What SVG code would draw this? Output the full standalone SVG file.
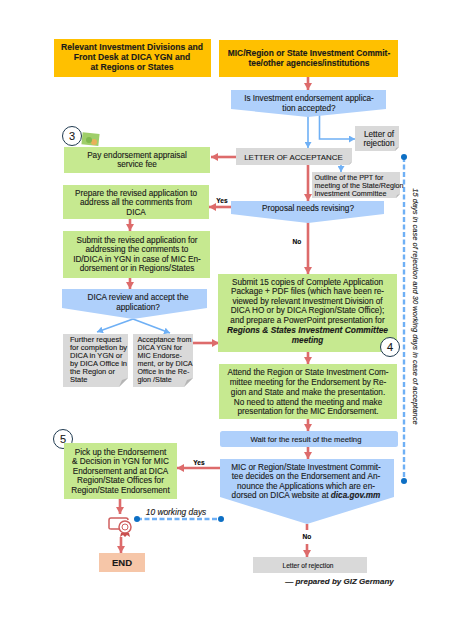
<svg xmlns="http://www.w3.org/2000/svg" width="451" height="637" viewBox="0 0 451 637">
<style>
text{font-family:"Liberation Sans",Arial,sans-serif;fill:#1a1a1a;text-anchor:middle;stroke:#1a1a1a;stroke-width:.12}
.t{font-size:8.2px}
.b{font-size:8.4px;font-weight:bold}
.s{font-size:7.5px}
.s2{font-size:7.2px}
.l{text-anchor:start}
.y{font-size:6.6px;font-weight:bold;fill:#000}
.i{font-style:italic;font-weight:bold}
.org{fill:#ffc000}.grn{fill:#c6e990}.blu{fill:#afd0fb}.gry{fill:#d9d9d9}
.red{stroke:#dd6b6b;stroke-width:2.6;fill:none}
.lb{stroke:#6fb0f5;stroke-width:1.6;fill:none}
.dash{stroke:#6fb0f5;stroke-width:2.4;fill:none;stroke-dasharray:5 2.5}
.dot{fill:#0d6fc4}
.circ{fill:#fff;stroke:#1f3a50;stroke-width:1}
.fold{fill:#b5b5b5}
</style>
<defs>
<marker id="r" markerUnits="userSpaceOnUse" markerWidth="8" markerHeight="8" refX="7" refY="4" orient="auto"><path d="M0 0L7 4L0 8z" fill="#dd6b6b"/></marker>
<marker id="b" markerUnits="userSpaceOnUse" markerWidth="7" markerHeight="7" refX="6" refY="3.5" orient="auto"><path d="M0 0L6 3.5L0 7z" fill="#6fb0f5"/></marker>
</defs>
<rect width="451" height="637" fill="#fff"/>

<g id="connectors">
<path class="red" marker-end="url(#r)" d="M308 77V90"/>
<path class="lb" marker-end="url(#b)" d="M308 116V148"/>
<path class="lb" marker-end="url(#b)" d="M319.500 114V139H355"/>
<path class="red" marker-end="url(#r)" d="M236 157H211"/>
<path class="lb" marker-end="url(#b)" d="M341 165V172"/>
<path class="red" marker-end="url(#r)" d="M308 165V201"/>
<path class="red" marker-end="url(#r)" d="M231 207H209"/>
<path class="red" marker-end="url(#r)" d="M130 219V231"/>
<path class="red" marker-end="url(#r)" d="M130 278V289"/>
<path class="lb" marker-end="url(#b)" d="M133 319L97 332"/>
<path class="lb" marker-end="url(#b)" d="M133 319L170 333"/>
<path class="red" marker-end="url(#r)" d="M193 343H219"/>
<path class="red" marker-end="url(#r)" d="M308 222V274"/>
<path class="red" marker-end="url(#r)" d="M308 352V364"/>
<path class="red" marker-end="url(#r)" d="M308 419V431"/>
<path class="red" marker-end="url(#r)" d="M308 447V459"/>
<path class="red" marker-end="url(#r)" d="M220 468H177"/>
<path class="red" marker-end="url(#r)" d="M120 499V514"/>
<path class="red" marker-end="url(#r)" d="M121 537V553"/>
<path class="red" d="M307 524V530"/>
<path class="red" marker-end="url(#r)" d="M307 544V557"/>
<path class="dash" d="M404 157V481"/>
<circle class="dot" cx="404" cy="157" r="3"/>
<circle class="dot" cx="404" cy="481" r="3"/>
<path class="dash" d="M137 519H221"/>
<circle class="dot" cx="137" cy="519" r="3"/>
<circle class="dot" cx="221" cy="519" r="3"/>
<text class="y" x="222" y="203">Yes</text>
<text class="y" x="297" y="243.500">No</text>
<text class="y" x="199" y="465">Yes</text>
<text class="y" x="307" y="539">No</text>
<text font-style="italic" font-size="8.400" x="176" y="515" stroke-width=".25">10 working days</text>
<text font-style="italic" font-size="7.500" stroke-width=".25" transform="translate(412.500 306.500) rotate(90)">15 days in case of rejection and 30 working days in case of acceptance</text>
</g>

<g id="n-divisions"><rect class="org" x="54" y="39" width="157" height="38"/>
<text class="b" style="font-size:8.6px"><tspan x="132" y="50">Relevant Investment Divisions and</tspan><tspan x="132" y="60">Front Desk at DICA YGN and</tspan><tspan x="132" y="69.500">at Regions or States</tspan></text></g>

<g id="n-mic"><rect class="org" x="219" y="40" width="179" height="37"/>
<text class="b"><tspan x="309" y="56">MIC/Region or State Investment Commit-</tspan><tspan x="309" y="66">tee/other agencies/institutions</tspan></text></g>

<g id="n-accepted"><path class="blu" d="M231 90H386V109L308 117L231 109z"/>
<text class="t"><tspan x="309" y="101">Is Investment endorsement applica-</tspan><tspan x="309" y="111">tion accepted?</tspan></text></g>

<g id="n-rejection1"><path class="gry" d="M355 126H399V147L395 151H355z"/><path class="fold" d="M395 151L396 148L399 147z"/>
<text class="t"><tspan x="379" y="137">Letter of</tspan><tspan x="379" y="146">rejection</tspan></text></g>

<g id="n-acceptance"><path class="gry" d="M236 148H352V162L349 165H236z"/><path class="fold" d="M349 165L350 163L352 162z"/>
<text font-size="7.900" x="293.500" y="160">LETTER OF ACCEPTANCE</text></g>

<g id="n-outline"><path class="gry" d="M312 172H400V194L396 198H312z"/><path class="fold" d="M396 198L397 195L400 194z"/>
<text class="s l" style="font-size:7.200px"><tspan x="314.500" y="180">Outline of the PPT for</tspan><tspan x="314.500" y="188">meeting of the State/Region</tspan><tspan x="314.500" y="195.500">Investment Committee</tspan></text></g>

<g id="n-step3"><circle class="circ" cx="72" cy="136" r="9.500"/><text font-size="11" x="72" y="140">3</text>
<rect x="82" y="133" width="17" height="12" fill="#9fce6a" transform="rotate(6 90 139)"/><circle cx="94" cy="142" r="3" fill="#e8b15a"/><circle cx="89" cy="140" r="3" fill="#7fb94f"/></g>

<g id="n-pay"><rect class="grn" x="64" y="147" width="146" height="26"/>
<text class="t"><tspan x="137" y="158">Pay endorsement appraisal</tspan><tspan x="137" y="167">service fee</tspan></text></g>

<g id="n-revising"><path class="blu" d="M231 201H384V214L308 223L231 214z"/>
<text class="t" x="308" y="211">Proposal needs revising?</text></g>

<g id="n-prepare"><rect class="grn" x="63" y="185" width="146" height="34"/>
<text class="t"><tspan x="136" y="196">Prepare the revised application to</tspan><tspan x="136" y="205">address all the comments from</tspan><tspan x="136" y="215">DICA</tspan></text></g>

<g id="n-submit"><rect class="grn" x="63" y="231" width="147" height="47"/>
<text class="t"><tspan x="137" y="243">Submit the revised application for</tspan><tspan x="137" y="252">addressing the comments to</tspan><tspan x="137" y="261.500">ID/DICA in YGN in case of MIC En-</tspan><tspan x="137" y="270.500">dorsement or in Regions/States</tspan></text></g>

<g id="n-review"><path class="blu" d="M62 289H207V308L133 319L62 308z"/>
<text class="t"><tspan x="138" y="300">DICA review and accept the</tspan><tspan x="138" y="310">application?</tspan></text></g>

<g id="n-further"><path class="gry" d="M63 334H128V378L119 387H63z"/><path class="fold" d="M119 387L122 380L128 378z"/>
<text class="s l"><tspan x="70" y="342">Further request</tspan><tspan x="70" y="350">for completion by</tspan><tspan x="70" y="358">DICA in YGN or</tspan><tspan x="70" y="366">by DICA Office in</tspan><tspan x="70" y="374">the Region or</tspan><tspan x="70" y="382">State</tspan></text></g>

<g id="n-acceptfrom"><path class="gry" d="M133 334H193V378L184 387H133z"/><path class="fold" d="M184 387L187 380L193 378z"/>
<text class="s2 l"><tspan x="137.500" y="342">Acceptance from</tspan><tspan x="137.500" y="350">DICA YGN for</tspan><tspan x="137.500" y="358">MIC Endorse-</tspan><tspan x="137.500" y="366">ment, or by DICA</tspan><tspan x="137.500" y="374">Office in the Re-</tspan><tspan x="137.500" y="382">gion /State</tspan></text></g>

<g id="n-copies"><rect class="grn" x="218" y="274" width="179" height="78"/>
<text class="t"><tspan x="307.500" y="285">Submit 15 copies of Complete Application</tspan><tspan x="307.500" y="294">Package + PDF files (which have been re-</tspan><tspan x="307.500" y="304">viewed by relevant Investment Division of</tspan><tspan x="307.500" y="313">DICA HO or by DICA Region/State Office);</tspan><tspan x="307.500" y="323">and prepare a PowerPoint presentation for</tspan><tspan x="307.500" y="333" class="i" font-size="8.400">Regions &amp; States Investment Committee</tspan><tspan x="307.500" y="343" class="i">meeting</tspan></text></g>

<g id="n-step4"><circle class="circ" cx="390" cy="347" r="9.500"/><text font-size="11" x="390" y="351">4</text></g>

<g id="n-attend"><rect class="grn" x="219" y="364" width="178" height="55"/>
<text class="t"><tspan x="308" y="375">Attend the Region or State Investment Com-</tspan><tspan x="308" y="385">mittee meeting for the Endorsement by Re-</tspan><tspan x="308" y="394.500">gion and State and make the presentation.</tspan><tspan x="308" y="404.500">No need to attend the meeting and make</tspan><tspan x="308" y="414">presentation for the MIC Endorsement.</tspan></text></g>

<g id="n-wait"><rect class="blu" x="220" y="431" width="178" height="16" rx="2.500"/>
<text font-size="7.700" x="306" y="441.500">Wait for the result of the meeting</text></g>

<g id="n-decides"><path class="blu" d="M220 459H394V497L307 524L220 497z"/>
<text class="t"><tspan x="306" y="469.500">MIC or Region/State Investment Commit-</tspan><tspan x="306" y="478.500">tee decides on the Endorsement and An-</tspan><tspan x="306" y="488.500">nounce the Applications which are en-</tspan><tspan x="306" y="497.500">dorsed on DICA website at <tspan class="i">dica.gov.mm</tspan></tspan></text></g>

<g id="n-step5"><circle class="circ" cx="63" cy="439" r="9.500"/><text font-size="11" x="63" y="443">5</text></g>

<g id="n-pickup"><rect class="grn" x="64" y="443" width="113" height="56"/>
<text class="t"><tspan x="120.500" y="455">Pick up the Endorsement</tspan><tspan x="120.500" y="464">&amp; Decision in YGN for MIC</tspan><tspan x="120.500" y="474">Endorsement and at DICA</tspan><tspan x="120.500" y="483">Region/State Offices for</tspan><tspan x="120.500" y="493">Region/State Endorsement</tspan></text></g>

<g id="n-certificate" fill="none" stroke="#cf5f5f">
<path stroke-width="1.500" d="M111 518H126Q128 518 128 520M111 518Q109 518 109 520V528Q109 529 111 529H119"/>
<circle cx="125" cy="527" r="6" stroke-width="1.500" fill="#fff"/><circle cx="125" cy="527" r="3" stroke-width="1"/>
<path d="M121 533L120 537L123 535L125 537L127 535L130 537L129 533" fill="#c94f4f" stroke="none"/></g>

<g id="n-end"><rect x="99" y="553" width="46" height="19" fill="#f6c6a8"/>
<text font-size="9.500" font-weight="bold" x="122" y="565.500">END</text></g>

<g id="n-rejection2"><rect class="gry" x="253" y="557" width="114" height="16"/>
<text font-size="6.600" x="308" y="567.500">Letter of rejection</text></g>

<g id="n-credit"><text class="i" font-size="8" x="339.500" y="584">— prepared by GIZ Germany</text></g>
</svg>
